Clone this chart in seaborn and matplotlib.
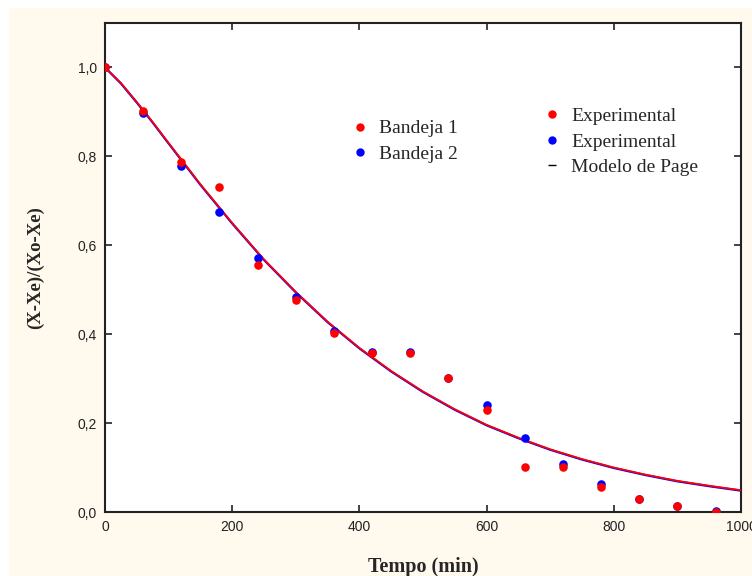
import matplotlib
matplotlib.use("Agg")
import matplotlib.pyplot as plt
import seaborn as sns
import pandas as pd
from matplotlib.lines import Line2D
from matplotlib.patches import Rectangle
from matplotlib.ticker import FuncFormatter

# Experimental points (min, moisture ratio)
tempo = [0, 60, 120, 180, 240, 300, 360, 420, 480, 540, 600, 660, 720, 780, 840, 900, 960]
bandeja1 = [1.0, 0.903, 0.787, 0.730, 0.555, 0.476, 0.402, 0.357, 0.357, 0.301,
            0.229, 0.101, 0.101, 0.056, 0.029, 0.013, 0.0]
bandeja2 = [1.0, 0.897, 0.778, 0.674, 0.571, 0.483, 0.407, 0.360, 0.360, 0.301,
            0.240, 0.166, 0.108, 0.063, 0.029, 0.013, 0.002]

# Page model curves
tempo_modelo = [0, 25, 50, 75, 100, 150, 200, 250, 300, 350, 400, 450, 500, 550,
                600, 650, 700, 750, 800, 850, 900, 950, 1000]
modelo1 = [1.0, 0.965, 0.922, 0.877, 0.830, 0.737, 0.650, 0.568, 0.495, 0.428,
           0.369, 0.317, 0.271, 0.231, 0.196, 0.167, 0.141, 0.119, 0.100,
           0.084, 0.070, 0.059, 0.049]
modelo2 = [1.0, 0.964, 0.921, 0.876, 0.829, 0.736, 0.649, 0.567, 0.494, 0.427,
           0.368, 0.316, 0.270, 0.230, 0.195, 0.166, 0.140, 0.118, 0.099,
           0.083, 0.069, 0.058, 0.048]

exp_df = pd.DataFrame({"t": tempo, "b1": bandeja1, "b2": bandeja2})
mod_df = pd.DataFrame({"t": tempo_modelo, "m1": modelo1, "m2": modelo2})

sns.set_style("ticks")
serif = ["Liberation Serif", "DejaVu Serif"]
narrow = ["Liberation Sans Narrow", "Liberation Sans", "DejaVu Sans"]

fig = plt.figure(figsize=(7.52, 5.76), dpi=100)
fig.patch.set_facecolor("white")
fig.patches.append(Rectangle((9 / 752, 0), 1, 1 - 8 / 576, transform=fig.transFigure,
                             facecolor="#fff9ee", edgecolor="none", zorder=-10))
ax = fig.add_axes([105 / 752, 64 / 576, 636 / 752, 489 / 576])
ax.set_facecolor("white")

sns.lineplot(data=mod_df, x="t", y="m2", color="#0000ff", linewidth=1.6, ax=ax, zorder=2)
sns.lineplot(data=mod_df, x="t", y="m1", color="#ff0000", linewidth=1.3, ax=ax, zorder=3)
sns.scatterplot(data=exp_df, x="t", y="b2", color="#0000ff", s=38, linewidth=0,
                ax=ax, zorder=4)
sns.scatterplot(data=exp_df, x="t", y="b1", color="#ff0000", s=38, linewidth=0,
                ax=ax, zorder=5)

ax.set_xlim(0, 1000)
ax.set_ylim(0, 1.1)
ax.set_xticks([0, 200, 400, 600, 800, 1000])
ax.set_yticks([0, 0.2, 0.4, 0.6, 0.8, 1.0])
ax.yaxis.set_major_formatter(FuncFormatter(lambda v, p: f"{v:.1f}".replace(".", ",")))
ax.tick_params(direction="in", length=5, width=1.2, top=True, right=True,
               labelsize=10, colors="#222222", pad=6)
for lab in ax.get_xticklabels() + ax.get_yticklabels():
    lab.set_family(narrow)
for sp in ax.spines.values():
    sp.set_linewidth(1.5)
    sp.set_color("#222222")

ax.set_xlabel("Tempo (min)", fontsize=14.5, fontweight="bold", family=serif, labelpad=16)
ax.set_ylabel("(X-Xe)/(Xo-Xe)", fontsize=13.5, fontweight="bold", family=serif, labelpad=24)

leg_font = {"family": serif, "size": 14}
h1 = [Line2D([], [], marker="o", color="#ff0000", linestyle="none", markersize=5),
      Line2D([], [], marker="o", color="#0000ff", linestyle="none", markersize=5)]
leg1 = ax.legend(h1, ["Bandeja 1", "Bandeja 2"], prop=leg_font, frameon=False,
                 loc="upper left", bbox_to_anchor=(0.373, 0.818), handletextpad=0.5,
                 labelspacing=0.4, handlelength=1.0, borderaxespad=0)
ax.add_artist(leg1)
h2 = [Line2D([], [], marker="o", color="#ff0000", linestyle="none", markersize=5),
      Line2D([], [], marker="o", color="#0000ff", linestyle="none", markersize=5),
      Line2D([], [], marker="_", color="black", linestyle="none", markersize=6)]
ax.legend(h2, ["Experimental", "Experimental", "Modelo de Page"], prop=leg_font,
          frameon=False, loc="upper left", bbox_to_anchor=(0.675, 0.843),
          handletextpad=0.5, labelspacing=0.4, handlelength=1.0, borderaxespad=0)

fig.savefig("out.png", dpi=100, facecolor=fig.get_facecolor())
